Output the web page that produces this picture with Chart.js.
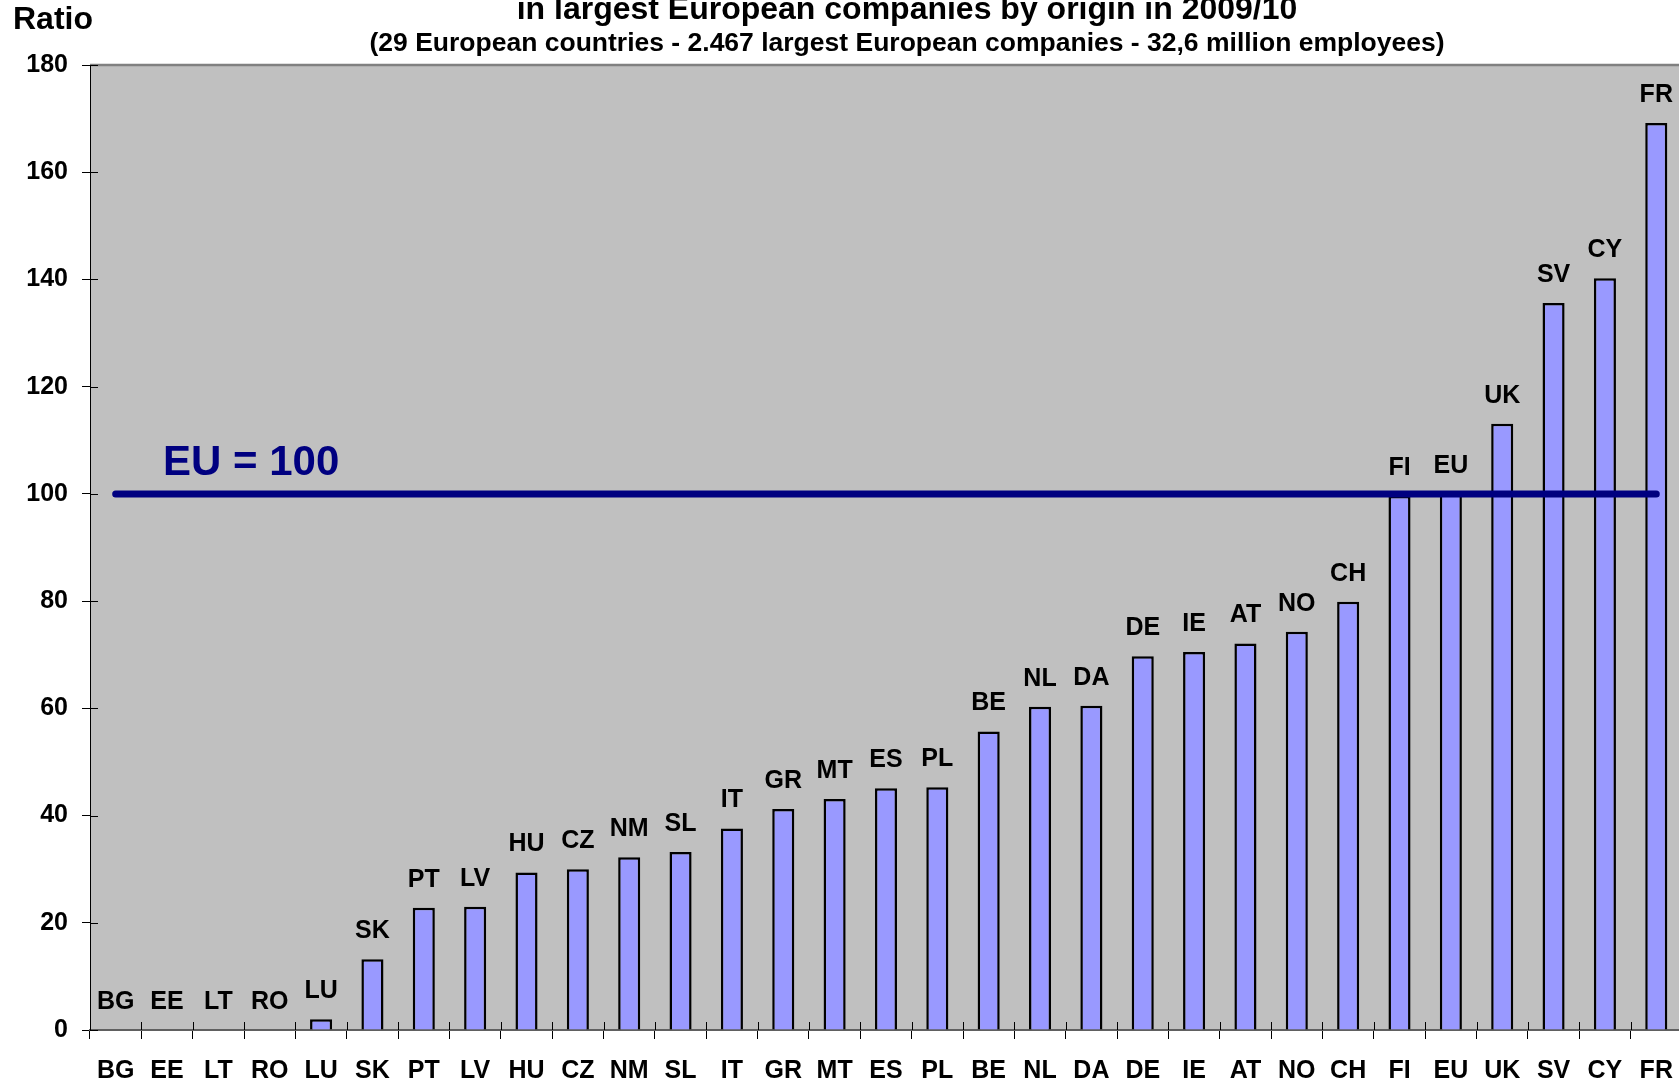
<!DOCTYPE html>
<html><head><meta charset="utf-8">
<script src="https://cdn.jsdelivr.net/npm/chart.js@4"></script>
<style>html,body{margin:0;padding:0;overflow:hidden;background:#fff}#wrap{width:1690px;height:1085px}</style>
</head><body><div id="wrap"><canvas id="c" width="1690" height="1085"></canvas></div>
<script>
const categories = ['BG','EE','LT','RO','LU','SK','PT','LV','HU','CZ','NM','SL','IT','GR','MT','ES','PL','BE','NL','DA','DE','IE','AT','NO','CH','FI','EU','UK','SV','CY','FR'];
const ratios = [0,0,0,0,2.0,13.2,22.8,23.0,29.4,30.0,32.2,33.2,37.6,41.2,43.1,45.1,45.3,55.7,60.3,60.5,69.7,70.5,72.1,74.3,79.9,99.6,100,113.1,135.6,140.2,169.2];
const yMin = 0, yMax = 180, yStep = 20;
const euLevel = 100;
const euLabel = 'EU = 100';
const titleLine = 'in largest European companies by origin in 2009/10';
const subtitleLine = '(29 European countries - 2.467 largest European companies - 32,6 million employees)';
const yAxisTitle = 'Ratio';

const FONT = '"Liberation Sans", Arial, sans-serif';

const decor = {
  id: 'decor',
  beforeDraw(chart) {
    const {ctx, chartArea: a} = chart;
    ctx.save();
    ctx.fillStyle = '#C0C0C0';
    ctx.fillRect(a.left, a.top, a.right - a.left, a.bottom - a.top);
    ctx.strokeStyle = '#808080';
    ctx.lineWidth = 2.5;
    ctx.beginPath(); ctx.moveTo(a.left, a.top); ctx.lineTo(a.right + 10, a.top); ctx.stroke();
    ctx.restore();
  },
  afterDraw(chart) {
    const {ctx, chartArea: a, scales: {x, y}} = chart;
    ctx.save();
    // inner halves of the cross tick marks
    ctx.strokeStyle = '#000'; ctx.lineWidth = 1;
    const cw = x.getPixelForValue(1) - x.getPixelForValue(0);
    ctx.beginPath();
    for (let i = 0; i < categories.length; i++) {
      const bx = Math.round(x.getPixelForValue(i) - cw / 2) + 0.5;
      ctx.moveTo(bx, a.bottom); ctx.lineTo(bx, a.bottom - 8);
    }
    for (let v = yMin; v <= yMax; v += yStep) {
      const py = Math.round(y.getPixelForValue(v)) + 0.5;
      ctx.moveTo(a.left, py); ctx.lineTo(a.left + 8, py);
    }
    ctx.stroke();
    // EU reference line
    const yy = y.getPixelForValue(euLevel);
    ctx.strokeStyle = '#000080'; ctx.lineWidth = 7; ctx.lineCap = 'round';
    ctx.beginPath();
    ctx.moveTo(x.getPixelForValue(0), yy);
    ctx.lineTo(x.getPixelForValue(categories.length - 1), yy);
    ctx.stroke();
    ctx.fillStyle = '#000080';
    ctx.font = 'bold 42px ' + FONT;
    ctx.textAlign = 'left'; ctx.textBaseline = 'middle';
    ctx.fillText(euLabel, a.left + 73, yy - 30);
    // bar labels
    ctx.fillStyle = '#000';
    ctx.font = 'bold 25px ' + FONT;
    ctx.textAlign = 'center';
    const meta = chart.getDatasetMeta(0);
    meta.data.forEach((bar, i) => {
      ctx.fillText(categories[i], bar.x, bar.y - 28);
    });
    // titles
    ctx.font = 'bold 32px ' + FONT;
    ctx.textBaseline = 'alphabetic';
    ctx.fillText(titleLine, 907, 19);
    ctx.font = 'bold 26.5px ' + FONT;
    ctx.textBaseline = 'middle';
    ctx.fillText(subtitleLine, 907, 44);
    ctx.font = 'bold 32px ' + FONT;
    ctx.textAlign = 'left';
    ctx.fillText(yAxisTitle, 13, 20);
    ctx.restore();
  }
};

new Chart(document.getElementById('c'), {
  type: 'bar',
  data: {
    labels: categories,
    datasets: [{
      data: ratios,
      backgroundColor: '#9999FF',
      borderColor: '#000',
      borderWidth: 2.5,
      barPercentage: 0.43,
      categoryPercentage: 1
    }]
  },
  options: {
    responsive: false,
    animation: false,
    devicePixelRatio: 1,
    layout: {padding: {left: 0, top: 65, right: 4, bottom: 0}},
    plugins: {legend: {display: false}, tooltip: {enabled: false}},
    scales: {
      x: {
        grid: {offset: true, drawOnChartArea: false, drawTicks: true, tickLength: 9, color: '#000'},
        border: {display: true, color: '#606060', width: 2},
        ticks: {color: '#000', font: {family: FONT, size: 25, weight: 'bold'}, padding: 17, maxRotation: 0, autoSkip: false},
        afterFit(s) { s.height = 55; }
      },
      y: {
        min: yMin, max: yMax,
        grid: {drawOnChartArea: false, drawTicks: true, tickLength: 8, color: '#000'},
        border: {display: true, color: '#000', width: 1},
        ticks: {stepSize: yStep, color: '#000', font: {family: FONT, size: 25, weight: 'bold'}, padding: 14},
        afterFit(s) { s.width = 90; }
      }
    }
  },
  plugins: [decor]
});
</script></body></html>
